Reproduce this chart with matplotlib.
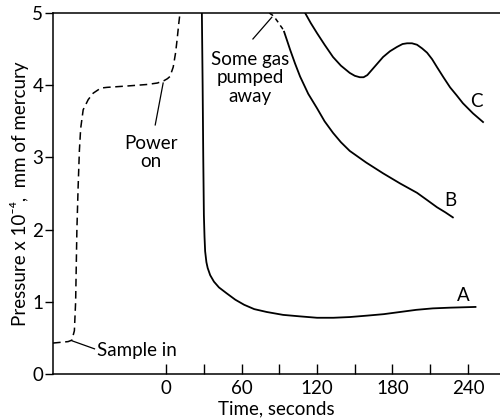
import matplotlib
matplotlib.use("Agg")
import matplotlib.pyplot as plt

plt.rcParams['font.family'] = ['Lato', 'DejaVu Sans']

# dashed trace: sample in, then power on (time in s, pressure x 1e-4 mm Hg)
t_dash = [-90, -84, -78, -75, -73, -72, -71, -70, -69, -68, -66, -62, -58, -52, -47,
          -30, -15, -7, -2, 1, 3, 5.6, 7.5, 8.7, 10, 11]
p_dash = [0.43, 0.44, 0.45, 0.47, 0.6, 1.0, 2.0, 2.6, 3.1, 3.4, 3.66, 3.8, 3.89, 3.96, 3.97,
          3.99, 4.01, 4.03, 4.06, 4.09, 4.12, 4.25, 4.45, 4.63, 4.85, 5.0]

t_a = [28.4, 29, 29.5, 30, 30.5, 31, 32, 33, 35, 38, 42, 48, 55, 62, 70, 80, 93, 106,
       120, 133, 146, 160, 173, 186, 199, 212, 226, 236, 246]
p_a = [5.0, 4.0, 3.0, 2.2, 1.9, 1.7, 1.55, 1.47, 1.37, 1.28, 1.2, 1.12, 1.03, 0.96, 0.9,
       0.86, 0.82, 0.8, 0.78, 0.78, 0.79, 0.81, 0.83, 0.86, 0.89, 0.91, 0.92, 0.925, 0.93]

t_b_gas = [82, 84.5, 86.6, 88.7, 90.6, 92.3, 93.8]
p_b_gas = [5.0, 4.97, 4.93, 4.88, 4.83, 4.79, 4.74]

t_b = [93.8, 96.5, 98.6, 102.5, 106.5, 113, 120, 126, 132.7, 139, 146, 159, 172.5,
       186, 199.5, 207.5, 215.4, 222, 228]
p_b = [4.74, 4.6, 4.49, 4.3, 4.12, 3.88, 3.68, 3.5, 3.34, 3.21, 3.09, 2.93, 2.78,
       2.64, 2.51, 2.41, 2.31, 2.24, 2.17]

t_c = [110.5, 115, 120, 126, 132.7, 139, 146, 150, 154, 157, 160, 166, 172.5, 178,
       183.6, 188, 191.6, 195.5, 199.5, 203.5, 207.5, 211.5, 215.4, 220.5, 225.8, 231,
       236, 244, 252]
p_c = [5.0, 4.86, 4.72, 4.56, 4.39, 4.27, 4.17, 4.13, 4.11, 4.11, 4.14, 4.26, 4.39, 4.47,
       4.53, 4.57, 4.58, 4.58, 4.56, 4.51, 4.45, 4.36, 4.25, 4.11, 3.97, 3.86,
       3.75, 3.61, 3.49]

x_ticks = [0, 30, 60, 90, 120, 150, 180, 210, 240]
x_tick_labels = ['0', '', '60', '', '120', '', '180', '', '240']
y_ticks = [0, 1, 2, 3, 4, 5]

fig = plt.figure(figsize=(5.0, 4.18), dpi=100)
ax = fig.add_axes([0.106, 0.105, 0.894, 0.864])

ax.plot(t_dash, p_dash, color='black', lw=1.1, linestyle=(0, (5, 3)))
ax.plot(t_a, p_a, color='black', lw=1.3)
ax.plot(t_b_gas, p_b_gas, color='black', lw=1.1, linestyle=(0, (3, 2.5)))
ax.plot(t_b, p_b, color='black', lw=1.3)
ax.plot(t_c, p_c, color='black', lw=1.3)

fs = 13.5
ax.text(236, 1.09, 'A', fontsize=fs, ha='center', va='center')
ax.text(226, 2.41, 'B', fontsize=fs, ha='center', va='center')
ax.text(247, 3.77, 'C', fontsize=fs, ha='center', va='center')

# leader lines
ax.plot([-8.7, -2.4], [3.45, 4.03], color='black', lw=0.9)
ax.text(-12, 3.07, 'Power\non', fontsize=fs, ha='center', va='center', linespacing=1.1)

ax.plot([-74.7, -57], [0.46, 0.35], color='black', lw=0.9)
ax.text(-55, 0.32, 'Sample in', fontsize=fs, ha='left', va='center')

ax.plot([69, 84], [4.64, 4.94], color='black', lw=0.9)
ax.text(66.8, 4.1, 'Some gas\npumped\naway', fontsize=fs, ha='center', va='center',
        linespacing=1.1)

ax.set_xlim(-90, 265.5)
ax.set_ylim(0, 5)
ax.set_xticks(x_ticks)
ax.set_xticklabels(x_tick_labels)
ax.set_yticks(y_ticks)
ax.tick_params(axis='x', direction='in', length=7, width=1, labelsize=fs, pad=4)
ax.tick_params(axis='y', direction='out', length=6, width=1, labelsize=fs, pad=1)

ax.spines['right'].set_visible(False)
for s in ['left', 'bottom', 'top']:
    ax.spines[s].set_linewidth(1.1)

ax.set_xlabel('Time, seconds', fontsize=fs, labelpad=3)
ax.set_ylabel('Pressure x 10⁻⁴,  mm of mercury', fontsize=fs, labelpad=2)

fig.savefig('out.png', dpi=100)
